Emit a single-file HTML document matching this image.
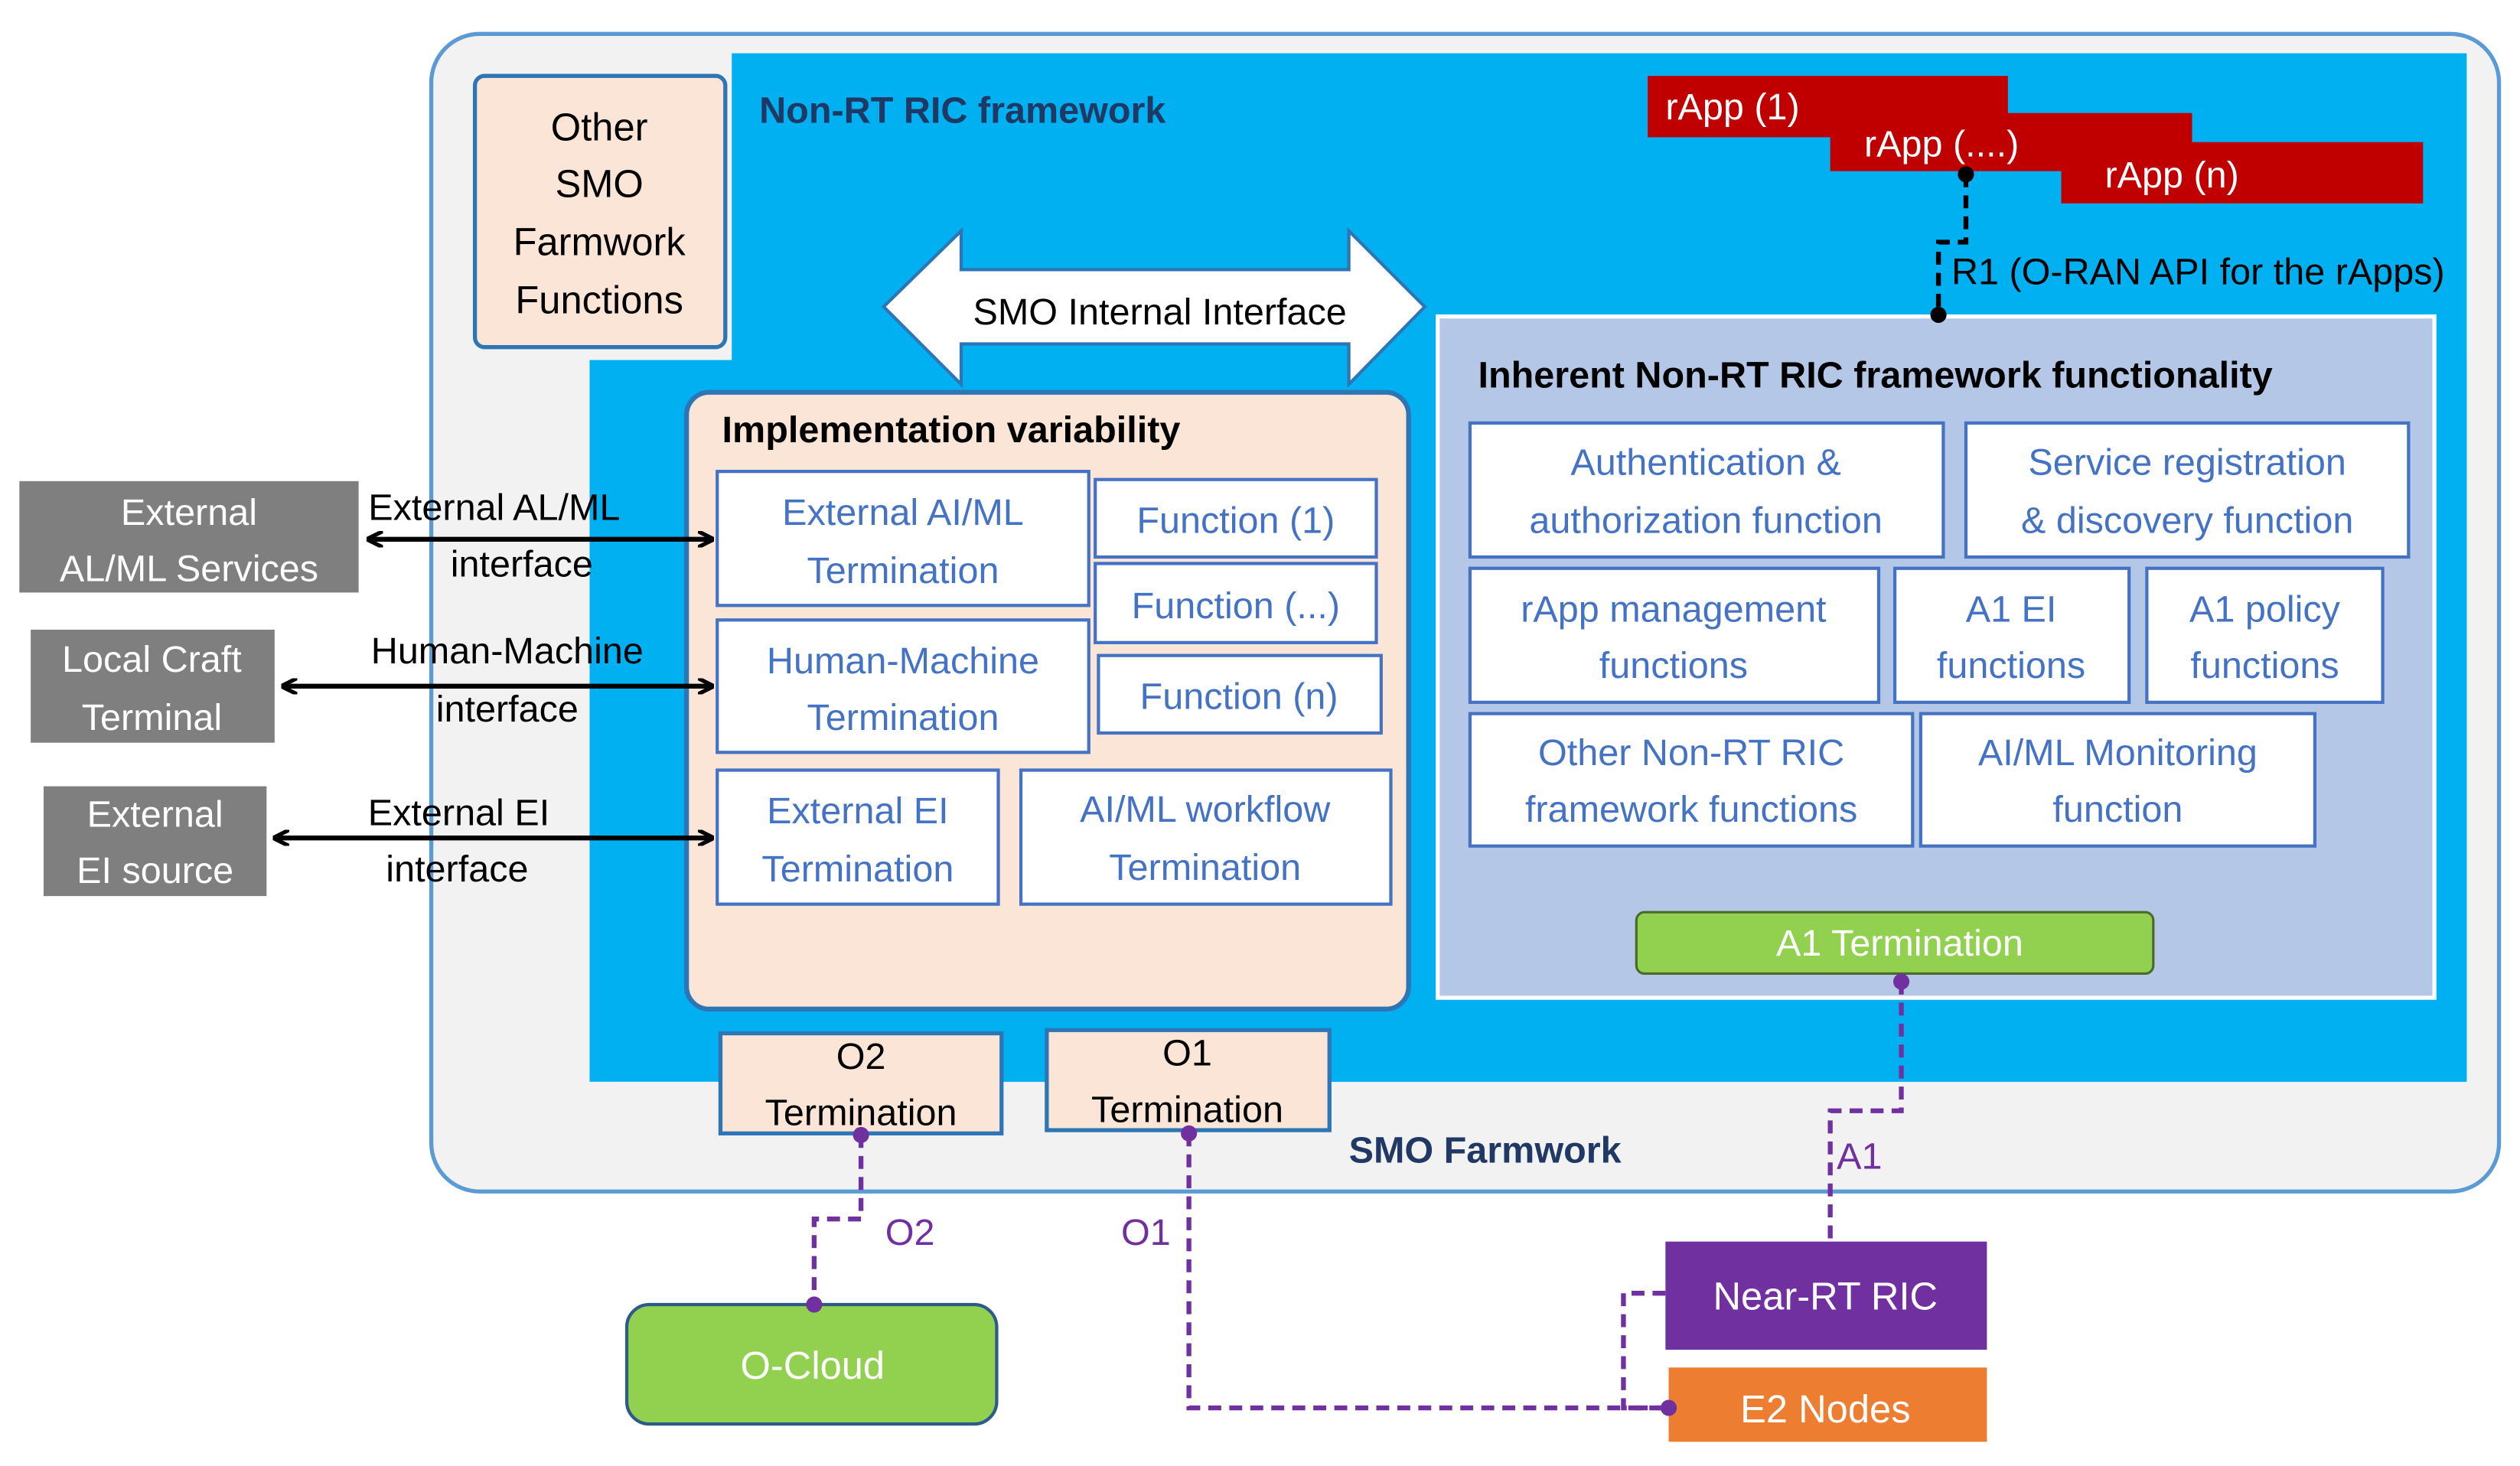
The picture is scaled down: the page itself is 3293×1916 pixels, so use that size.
<!DOCTYPE html>
<html><head><meta charset="utf-8"><style>
html,body{margin:0;padding:0;background:#fff;}
svg{display:block;}
text{font-family:"Liberation Sans",sans-serif;}
</style></head><body>
<svg width="3293" height="1916" viewBox="0 0 1560 908" preserveAspectRatio="none" xmlns="http://www.w3.org/2000/svg">
<defs>
<marker id="ah" markerWidth="10" markerHeight="10" refX="9" refY="5" orient="auto-start-reverse" markerUnits="userSpaceOnUse"><path d="M0,0 L10,5 L0,10" fill="none" stroke="#000" stroke-width="2.5"/></marker>
</defs>
<rect x="267" y="21" width="1280" height="717" rx="30" fill="#f2f2f2" stroke="#5b9bd5" stroke-width="2.5"/>
<rect x="453" y="33" width="1074" height="637" fill="#00b0f0"/>
<rect x="365" y="223" width="1162" height="447" fill="#00b0f0"/>
<rect x="294" y="47" width="155" height="168" rx="6" fill="#fbe5d6" stroke="#2e75b6" stroke-width="2.5"/>
<g font-size="24" text-anchor="middle" fill="#000">
<text x="371" y="87">Other</text><text x="371" y="122">SMO</text><text x="371" y="158">Farmwork</text><text x="371" y="194">Functions</text>
</g>
<text x="470" y="76" font-size="23" font-weight="bold" fill="#1f3864">Non-RT RIC framework</text>
<path d="M547,190 L595,143 L595,167 L835,167 L835,143 L882,190 L835,238 L835,213 L595,213 L595,238 Z" fill="#fff" stroke="#2e75b6" stroke-width="2"/>
<text x="718" y="201" font-size="23" text-anchor="middle">SMO Internal Interface</text>
<rect x="425" y="243" width="447" height="382" rx="14" fill="#fbe5d6" stroke="#2e75b6" stroke-width="3"/>
<text x="447" y="274" font-size="23" font-weight="bold">Implementation variability</text>
<g fill="#fff" stroke="#4472c4" stroke-width="2">
<rect x="444" y="292" width="230" height="83"/><rect x="678" y="297" width="174" height="48"/>
<rect x="678" y="349" width="174" height="49"/><rect x="680" y="406" width="175" height="48"/>
<rect x="444" y="384" width="230" height="82"/><rect x="444" y="477" width="174" height="83"/>
<rect x="632" y="477" width="229" height="83"/>
</g>
<g font-size="23" fill="#4472c4" text-anchor="middle">
<text x="559" y="325">External AI/ML</text><text x="559" y="361">Termination</text>
<text x="765" y="330">Function (1)</text><text x="765" y="383">Function (...)</text><text x="767" y="439">Function (n)</text>
<text x="559" y="417">Human-Machine</text><text x="559" y="452">Termination</text>
<text x="531" y="510">External EI</text><text x="531" y="546">Termination</text>
<text x="746" y="509">AI/ML workflow</text><text x="746" y="545">Termination</text>
</g>
<g fill="#fbe5d6" stroke="#2e75b6" stroke-width="2.5">
<rect x="446" y="640" width="174" height="62"/><rect x="648" y="638" width="175" height="62"/>
</g>
<g font-size="23" text-anchor="middle">
<text x="533" y="662">O2</text><text x="533" y="697">Termination</text>
<text x="735" y="660">O1</text><text x="735" y="695">Termination</text>
</g>
<text x="835" y="720" font-size="23" font-weight="bold" fill="#1f3864">SMO Farmwork</text>
<rect x="890" y="196" width="617" height="422" fill="#b4c7e7" stroke="#fff" stroke-width="2.5"/>
<text x="915" y="240" font-size="23" font-weight="bold">Inherent Non-RT RIC framework functionality</text>
<g fill="#fff" stroke="#4472c4" stroke-width="2">
<rect x="910" y="262" width="293" height="83"/><rect x="1217" y="262" width="274" height="83"/>
<rect x="910" y="352" width="253" height="83"/><rect x="1173" y="352" width="145" height="83"/>
<rect x="1329" y="352" width="146" height="83"/><rect x="910" y="442" width="274" height="82"/>
<rect x="1189" y="442" width="244" height="82"/>
</g>
<g font-size="23" fill="#4472c4" text-anchor="middle">
<text x="1056" y="294">Authentication &amp;</text><text x="1056" y="330">authorization function</text>
<text x="1354" y="294">Service registration</text><text x="1354" y="330">&amp; discovery function</text>
<text x="1036" y="385">rApp management</text><text x="1036" y="420">functions</text>
<text x="1245" y="385">A1 EI</text><text x="1245" y="420">functions</text>
<text x="1402" y="385">A1 policy</text><text x="1402" y="420">functions</text>
<text x="1047" y="474">Other Non-RT RIC</text><text x="1047" y="509">framework functions</text>
<text x="1311" y="474">AI/ML Monitoring</text><text x="1311" y="509">function</text>
</g>
<rect x="1013" y="565" width="320" height="38" rx="5" fill="#92d050" stroke="#4a6a2a" stroke-width="1.5"/>
<text x="1176" y="592" font-size="23" fill="#fff" text-anchor="middle">A1 Termination</text>
<g fill="#c00000">
<rect x="1020" y="47" width="223" height="38"/><rect x="1133" y="70" width="224" height="36"/><rect x="1276" y="88" width="224" height="38"/>
</g>
<g font-size="23" fill="#fff">
<text x="1031" y="74">rApp (1)</text><text x="1154" y="97">rApp (....)</text><text x="1303" y="116">rApp (n)</text>
</g>
<path d="M1217,108 L1217,150 L1200,150 L1200,195" fill="none" stroke="#000" stroke-width="3" stroke-dasharray="8,5"/>
<circle cx="1217" cy="108" r="5"/><circle cx="1200" cy="195" r="5"/>
<text x="1208" y="176" font-size="23">R1 (O-RAN API for the rApps)</text>
<g fill="#7f7f7f">
<rect x="12" y="298" width="210" height="69"/><rect x="19" y="390" width="151" height="70"/><rect x="27" y="487" width="138" height="68"/>
</g>
<g font-size="23" fill="#fff" text-anchor="middle">
<text x="117" y="325">External</text><text x="117" y="360">AL/ML Services</text>
<text x="94" y="416">Local Craft</text><text x="94" y="452">Terminal</text>
<text x="96" y="512">External</text><text x="96" y="547">EI source</text>
</g>
<g stroke="#000" stroke-width="3" marker-start="url(#ah)" marker-end="url(#ah)">
<line x1="228" y1="334" x2="441" y2="334"/><line x1="175" y1="425" x2="441" y2="425"/><line x1="170" y1="519" x2="441" y2="519"/>
</g>
<g font-size="23" fill="#000">
<text x="228" y="322">External  AL/ML</text><text x="323" y="357" text-anchor="middle">interface</text>
<text x="314" y="411" text-anchor="middle">Human-Machine</text><text x="314" y="447" text-anchor="middle">interface</text>
<text x="284" y="511" text-anchor="middle">External  EI</text><text x="283" y="546" text-anchor="middle">interface</text>
</g>
<rect x="388" y="808" width="229" height="74" rx="14" fill="#92d050" stroke="#2e5a8a" stroke-width="2"/>
<text x="503" y="854" font-size="24" fill="#fff" text-anchor="middle">O-Cloud</text>
<rect x="1031" y="769" width="199" height="67" fill="#7030a0"/>
<text x="1130" y="811" font-size="24" fill="#fff" text-anchor="middle">Near-RT RIC</text>
<rect x="1033" y="847" width="197" height="46" fill="#ed7d31"/>
<text x="1130" y="881" font-size="24" fill="#fff" text-anchor="middle">E2 Nodes</text>
<g fill="none" stroke="#7030a0" stroke-width="3" stroke-dasharray="8,5">
<path d="M533,703 L533,755 L504,755 L504,808"/>
<path d="M736,702 L736,872 L1033,872"/>
<path d="M1033,872 L1005,872 L1005,801 L1031,801"/>
<path d="M1177,608 L1177,688 L1133,688 L1133,769"/>
</g>
<g fill="#7030a0">
<circle cx="533" cy="703" r="5"/><circle cx="504" cy="808" r="5"/><circle cx="736" cy="702" r="5"/>
<circle cx="1033" cy="872" r="5"/><circle cx="1177" cy="608" r="5"/>
</g>
<g font-size="23" fill="#7030a0">
<text x="548" y="771">O2</text><text x="694" y="771">O1</text><text x="1137" y="724">A1</text>
</g>
</svg>
</body></html>
